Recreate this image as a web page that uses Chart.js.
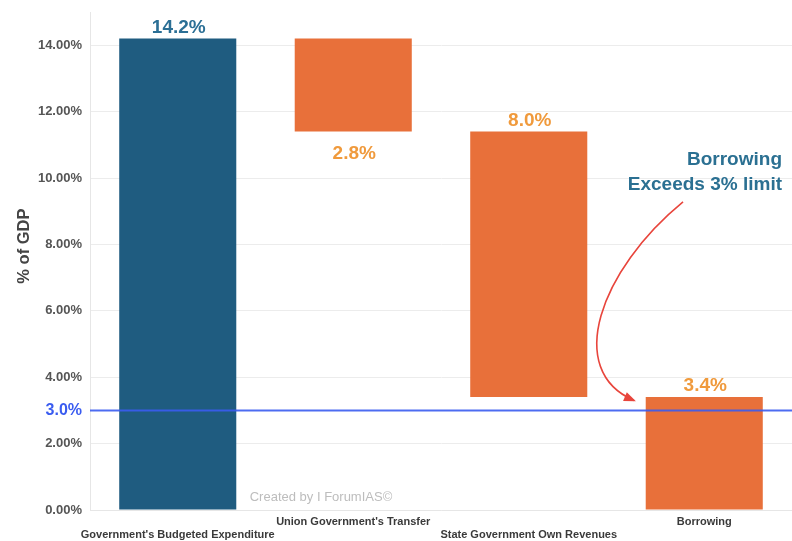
<!DOCTYPE html>
<html>
<head>
<meta charset="utf-8">
<script src="https://cdn.jsdelivr.net/npm/chart.js@4/dist/chart.umd.min.js"></script>
<style>
  html, body { margin: 0; padding: 0; background: #ffffff; }
  #wrap { width: 792px; height: 541px; }
</style>
</head>
<body>
<div id="wrap"><canvas id="c" width="792" height="541"></canvas></div>
<script>
// Waterfall of state finances, % of GDP
const categories = [
  ["", "Government's Budgeted Expenditure"],
  ["Union Government's Transfer"],
  ["", "State Government Own Revenues"],
  ["Borrowing"]
];
const barStart = [0, 11.4, 3.4, 0];
const barEnd = [14.2, 14.2, 11.4, 3.4];
const valueLabels = ["14.2%", "2.8%", "8.0%", "3.4%"];
const labelSide = ["above", "below", "above", "above"];
const yTickValues = [0, 2, 3, 4, 6, 8, 10, 12, 14];
const limitValue = 3.0;
const limitLabel = "3.0%";

const BLUE = "#1f5c80";
const ORANGE = "#e8703a";
const LIMIT_BLUE = "#3a5cf0";
const FONT = "'Liberation Sans', Arial, Helvetica, sans-serif";

const barColors = [BLUE, ORANGE, ORANGE, ORANGE];
const labelColors = ["#2b6f95", "#f09a3c", "#f09a3c", "#f09a3c"];

const isLimit = c => !!(c && c.tick && c.tick.value === limitValue);

// Value labels, 3% limit line, callout, axis title and credit
const overlay = {
  id: "overlay",
  afterDatasetsDraw(chart) {
    const { ctx, chartArea, scales: { x, y } } = chart;
    const meta = chart.getDatasetMeta(0);

    // 3% limit line across the plot
    const ly = Math.round(y.getPixelForValue(limitValue)) + 0.5;
    ctx.save();
    ctx.strokeStyle = "rgba(58,92,240,0.9)";
    ctx.lineWidth = 1.8;
    ctx.beginPath();
    ctx.moveTo(chartArea.left, ly);
    ctx.lineTo(chartArea.right, ly);
    ctx.stroke();

    // value labels
    ctx.font = "bold 19px " + FONT;
    ctx.textAlign = "center";
    ctx.textBaseline = "alphabetic";
    meta.data.forEach((bar, i) => {
      ctx.fillStyle = labelColors[i];
      const top = Math.min(bar.y, bar.base);
      const bottom = Math.max(bar.y, bar.base);
      if (labelSide[i] === "above") {
        ctx.fillText(valueLabels[i], bar.x + 1, top - 6);
      } else {
        ctx.fillText(valueLabels[i], bar.x + 1, bottom + 27);
      }
    });

    // callout text
    ctx.fillStyle = "#2b7092";
    ctx.font = "bold 19px " + FONT;
    ctx.textAlign = "right";
    ctx.textBaseline = "middle";
    const tx = x.getPixelForValue(3.443);
    ctx.fillText("Borrowing", tx, y.getPixelForValue(10.54));
    ctx.fillText("Exceeds 3% limit", tx, y.getPixelForValue(9.79));

    // curved arrow pointing at the borrowing bar
    const p = (i, v) => [x.getPixelForValue(i), y.getPixelForValue(v)];
    const p0 = p(2.879, 9.28), p1 = p(2.406, 7.23), p2 = p(2.20, 4.2), p3 = p(2.600, 3.30);
    ctx.strokeStyle = "#e8453c";
    ctx.fillStyle = "#e8453c";
    ctx.lineWidth = 1.6;
    ctx.beginPath();
    ctx.moveTo(p0[0], p0[1]);
    ctx.bezierCurveTo(p1[0], p1[1], p2[0], p2[1], p3[0], p3[1]);
    ctx.stroke();
    const ang = Math.atan2(p3[1] - p2[1], p3[0] - p2[0]);
    const hl = 11;
    ctx.beginPath();
    ctx.moveTo(p3[0] + 2 * Math.cos(ang), p3[1] + 2 * Math.sin(ang));
    ctx.lineTo(p3[0] - hl * Math.cos(ang - 0.45), p3[1] - hl * Math.sin(ang - 0.45));
    ctx.lineTo(p3[0] - hl * Math.cos(ang + 0.45), p3[1] - hl * Math.sin(ang + 0.45));
    ctx.closePath();
    ctx.fill();

    // credit
    ctx.fillStyle = "#bdbdbd";
    ctx.font = "13px " + FONT;
    ctx.textAlign = "left";
    ctx.textBaseline = "middle";
    ctx.fillText("Created by I ForumIAS\u00A9", x.getPixelForValue(0.41), y.getPixelForValue(0.39));

    // y axis title
    ctx.fillStyle = "#444444";
    ctx.font = "bold 16.5px " + FONT;
    ctx.textAlign = "center";
    ctx.textBaseline = "middle";
    ctx.translate(24, chartArea.top + (chartArea.bottom - chartArea.top) * 0.47);
    ctx.rotate(-Math.PI / 2);
    ctx.fillText("% of GDP", 0, 0);
    ctx.restore();
  }
};

new Chart(document.getElementById("c"), {
  type: "bar",
  data: {
    labels: categories,
    datasets: [{
      data: barStart.map((s, i) => [s, barEnd[i]]),
      backgroundColor: barColors,
      borderWidth: 0,
      categoryPercentage: 1,
      barPercentage: 0.667
    }]
  },
  options: {
    responsive: false,
    animation: false,
    layout: { padding: { top: 12, right: 0, left: 0, bottom: 0 } },
    plugins: { legend: { display: false }, tooltip: { enabled: false } },
    scales: {
      x: {
        grid: { display: false, drawTicks: false },
        border: { color: "#e6e6e6" },
        ticks: {
          color: "#3a3a3a",
          font: { family: FONT, size: 11, weight: "bold", lineHeight: 1.2 },
          padding: 5,
          maxRotation: 0,
          autoSkip: false
        },
        afterFit(scale) {
          scale.height = 31;
          scale.paddingLeft = 0;
          scale.paddingRight = 0;
        }
      },
      y: {
        min: 0,
        max: 15,
        afterBuildTicks(scale) {
          scale.ticks = yTickValues.map(v => ({ value: v }));
        },
        afterFit(scale) {
          scale.width = 90;
          scale.paddingTop = 0;
          scale.paddingBottom = 0;
        },
        border: { color: "#e6e6e6" },
        grid: {
          color: c => isLimit(c) ? "rgba(0,0,0,0)" : "#ececec",
          drawTicks: false
        },
        ticks: {
          padding: 8,
          color: c => isLimit(c) ? LIMIT_BLUE : "#555555",
          font: c => isLimit(c)
            ? { family: FONT, size: 16, weight: "bold" }
            : { family: FONT, size: 13, weight: "bold" },
          callback: v => v === limitValue ? limitLabel : v.toFixed(2) + "%"
        }
      }
    }
  },
  plugins: [overlay]
});
</script>
</body>
</html>
